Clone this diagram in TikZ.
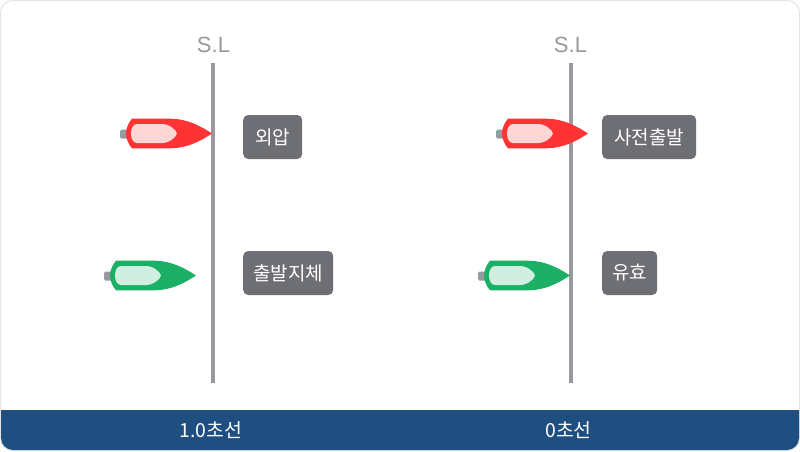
\documentclass[tikz,border=0pt]{standalone}
\usepackage{fontspec}
\setmainfont{Noto Sans CJK KR}
\newfontfamily\latinfont{Liberation Sans}
\definecolor{bandblue}{HTML}{1F4E80}
\definecolor{framegray}{HTML}{E4E5E7}
\definecolor{linegray}{HTML}{98999E}
\definecolor{tagcolor}{HTML}{6E6F75}
\definecolor{boatred}{HTML}{FF3333}
\definecolor{cabinred}{HTML}{FFD6D6}
\definecolor{boatgreen}{HTML}{1BB066}
\definecolor{cabingreen}{HTML}{D1EFE0}
\tikzset{
  x=1pt,y=-1pt,
  tag/.style={fill=tagcolor,rounded corners=5pt,text=white,font=\fontsize{19}{19}\selectfont,inner sep=0pt,minimum height=44pt,anchor=west},
  slabel/.style={text=linegray,font=\latinfont\fontsize{22}{22}\selectfont,inner sep=0pt},
  bandlabel/.style={text=white,font=\fontsize{19.4}{19.4}\selectfont,inner sep=0pt},
  startline/.style={draw=linegray,line width=4pt},
  pics/boat/.style n args={2}{code={
    \fill[linegray,rounded corners=1.5pt] (-92,-4) rectangle (-84,5);
    \fill[#1] (0,0) .. controls (-10,-6.5) and (-24,-14.8) .. (-42,-14.8)
      -- (-80,-14.8) .. controls (-83.5,-11) and (-86,-5) .. (-86,0)
      .. controls (-86,5) and (-83.5,11) .. (-80,14.8)
      -- (-42,14.8) .. controls (-24,14.8) and (-10,6.5) .. cycle;
    \fill[#2] (-35,0) .. controls (-35.5,-3) and (-42,-9.5) .. (-50,-9.5)
      -- (-75,-9.5) .. controls (-79,-9.5) and (-81,-5) .. (-81,0)
      .. controls (-81,5) and (-79,9.5) .. (-75,9.5)
      -- (-50,9.5) .. controls (-42,9.5) and (-35.5,3) .. cycle;
  }},
}
\begin{document}
\begin{tikzpicture}
\useasboundingbox (0,0) rectangle (800,451);
\fill[white] (0,0) rectangle (800,451);
\draw[framegray,line width=1pt,fill=white,rounded corners=12pt] (0.5,0.5) rectangle (799.5,450.5);
\fill[bandblue] (1,410) -- (799,410) -- (799,438) arc[start angle=0,end angle=-90,radius=12pt] -- (13,450) arc[start angle=-90,end angle=-180,radius=12pt] -- cycle;
\coordinate (lineAtop) at (213,63);
\coordinate (lineAbot) at (213,383);
\coordinate (lineBtop) at (571,63);
\coordinate (lineBbot) at (571,383);
\draw[startline] (lineAtop) -- (lineAbot);
\draw[startline] (lineBtop) -- (lineBbot);
\node[slabel] (slA) at (213.5,45) {S.L};
\node[slabel] (slB) at (570.5,45) {S.L};
\pic at (212,133.5) {boat={boatred}{cabinred}};
\pic at (196,275.5) {boat={boatgreen}{cabingreen}};
\pic at (588,133.5) {boat={boatred}{cabinred}};
\pic at (570,275.5) {boat={boatgreen}{cabingreen}};
\node[tag,minimum width=59pt] (t1) at (243,137) {외압};
\node[tag,minimum width=90pt] (t2) at (243,273) {출발지체};
\node[tag,minimum width=94pt] (t3) at (602,137) {사전출발};
\node[tag,minimum width=55pt] (t4) at (602,273) {유효};
\node[bandlabel] (b1) at (211,430) {1.0초선};
\node[bandlabel] (b2) at (568.5,430) {0초선};
\end{tikzpicture}
\end{document}
